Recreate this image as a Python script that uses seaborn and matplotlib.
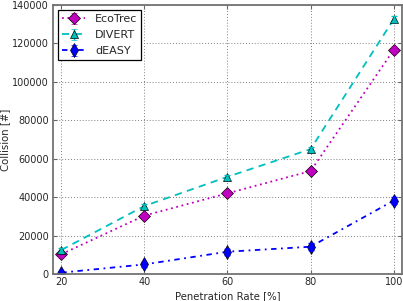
import numpy as np
import pandas as pd
import matplotlib
matplotlib.use("Agg")
import matplotlib.pyplot as plt
import seaborn as sns

rate = [20, 40, 60, 80, 100]
ecotrec = [10300, 30400, 42000, 53600, 116600]
divert = [12500, 35400, 50600, 65000, 132600]
deasy = [700, 5000, 11600, 14200, 38200]
ecotrec_err = [1200, 1200, 1200, 1200, 1500]
divert_err = [1000, 1000, 1000, 1000, 1500]
deasy_err = [1000, 1200, 1500, 1800, 1800]

sns.set_style("ticks")
plt.rcParams['font.family'] = ['DejaVu Sans']

fig = plt.figure(figsize=(4.03, 3.01), dpi=100)
ax = fig.add_axes([0.1315, 0.0897, 0.866, 0.8935])

series = [
    ("EcoTrec", ecotrec, ecotrec_err, "m", "D", (0, (1, 2)), 6),
    ("DIVERT", divert, divert_err, "c", "^", (0, (4, 3)), 6),
    ("dEASY", deasy, deasy_err, "b", "d", (0, (3, 2.5, 1, 2.5)), 7),
]

handles = []
for name, vals, err, col, mk, ls, ms in series:
    df = pd.DataFrame({"rate": rate, "val": vals})
    sns.lineplot(data=df, x="rate", y="val", ax=ax, color=col, linestyle=ls,
                 linewidth=1.3, marker=mk, markersize=ms, markeredgecolor="k",
                 markeredgewidth=0.5, legend=False)
    ax.errorbar(rate, vals, yerr=err, fmt="none", ecolor=col, elinewidth=1, capsize=2)
    h = ax.errorbar([np.nan], [np.nan], yerr=[np.nan], fmt=mk, linestyle=ls, color=col,
                    linewidth=1.3, markersize=ms, markeredgecolor="k", markeredgewidth=0.5,
                    elinewidth=1, capsize=2, label=name)
    handles.append(h)

ax.set_xlim(18, 102)
ax.set_ylim(0, 140000)
ax.set_xticks([20, 40, 60, 80, 100])
ax.set_yticks(np.arange(0, 140001, 20000))
ax.grid(True, color="0.5", linestyle=(0, (1, 2)), linewidth=0.7)
ax.tick_params(direction="in", top=True, right=True, labelsize=7, length=3,
               color="0.4", pad=3)
ax.tick_params(axis="x", pad=2.5)
for s in ax.spines.values():
    s.set_color("0.45")
    s.set_linewidth(1.3)
ax.set_xlabel("Penetration Rate [%]", fontsize=7.3, labelpad=2.5)
ax.set_ylabel("Collision [#]", fontsize=7.3, labelpad=1)

leg = ax.legend(handles=handles, loc="upper left", fontsize=8, numpoints=1,
                handlelength=2.1, handletextpad=0.9, fancybox=False, frameon=True,
                borderaxespad=0.45, labelspacing=0.55, borderpad=0.35, framealpha=1)
leg.get_frame().set_edgecolor("k")
leg.get_frame().set_linewidth(0.9)

fig.savefig("out.png", dpi=100)
